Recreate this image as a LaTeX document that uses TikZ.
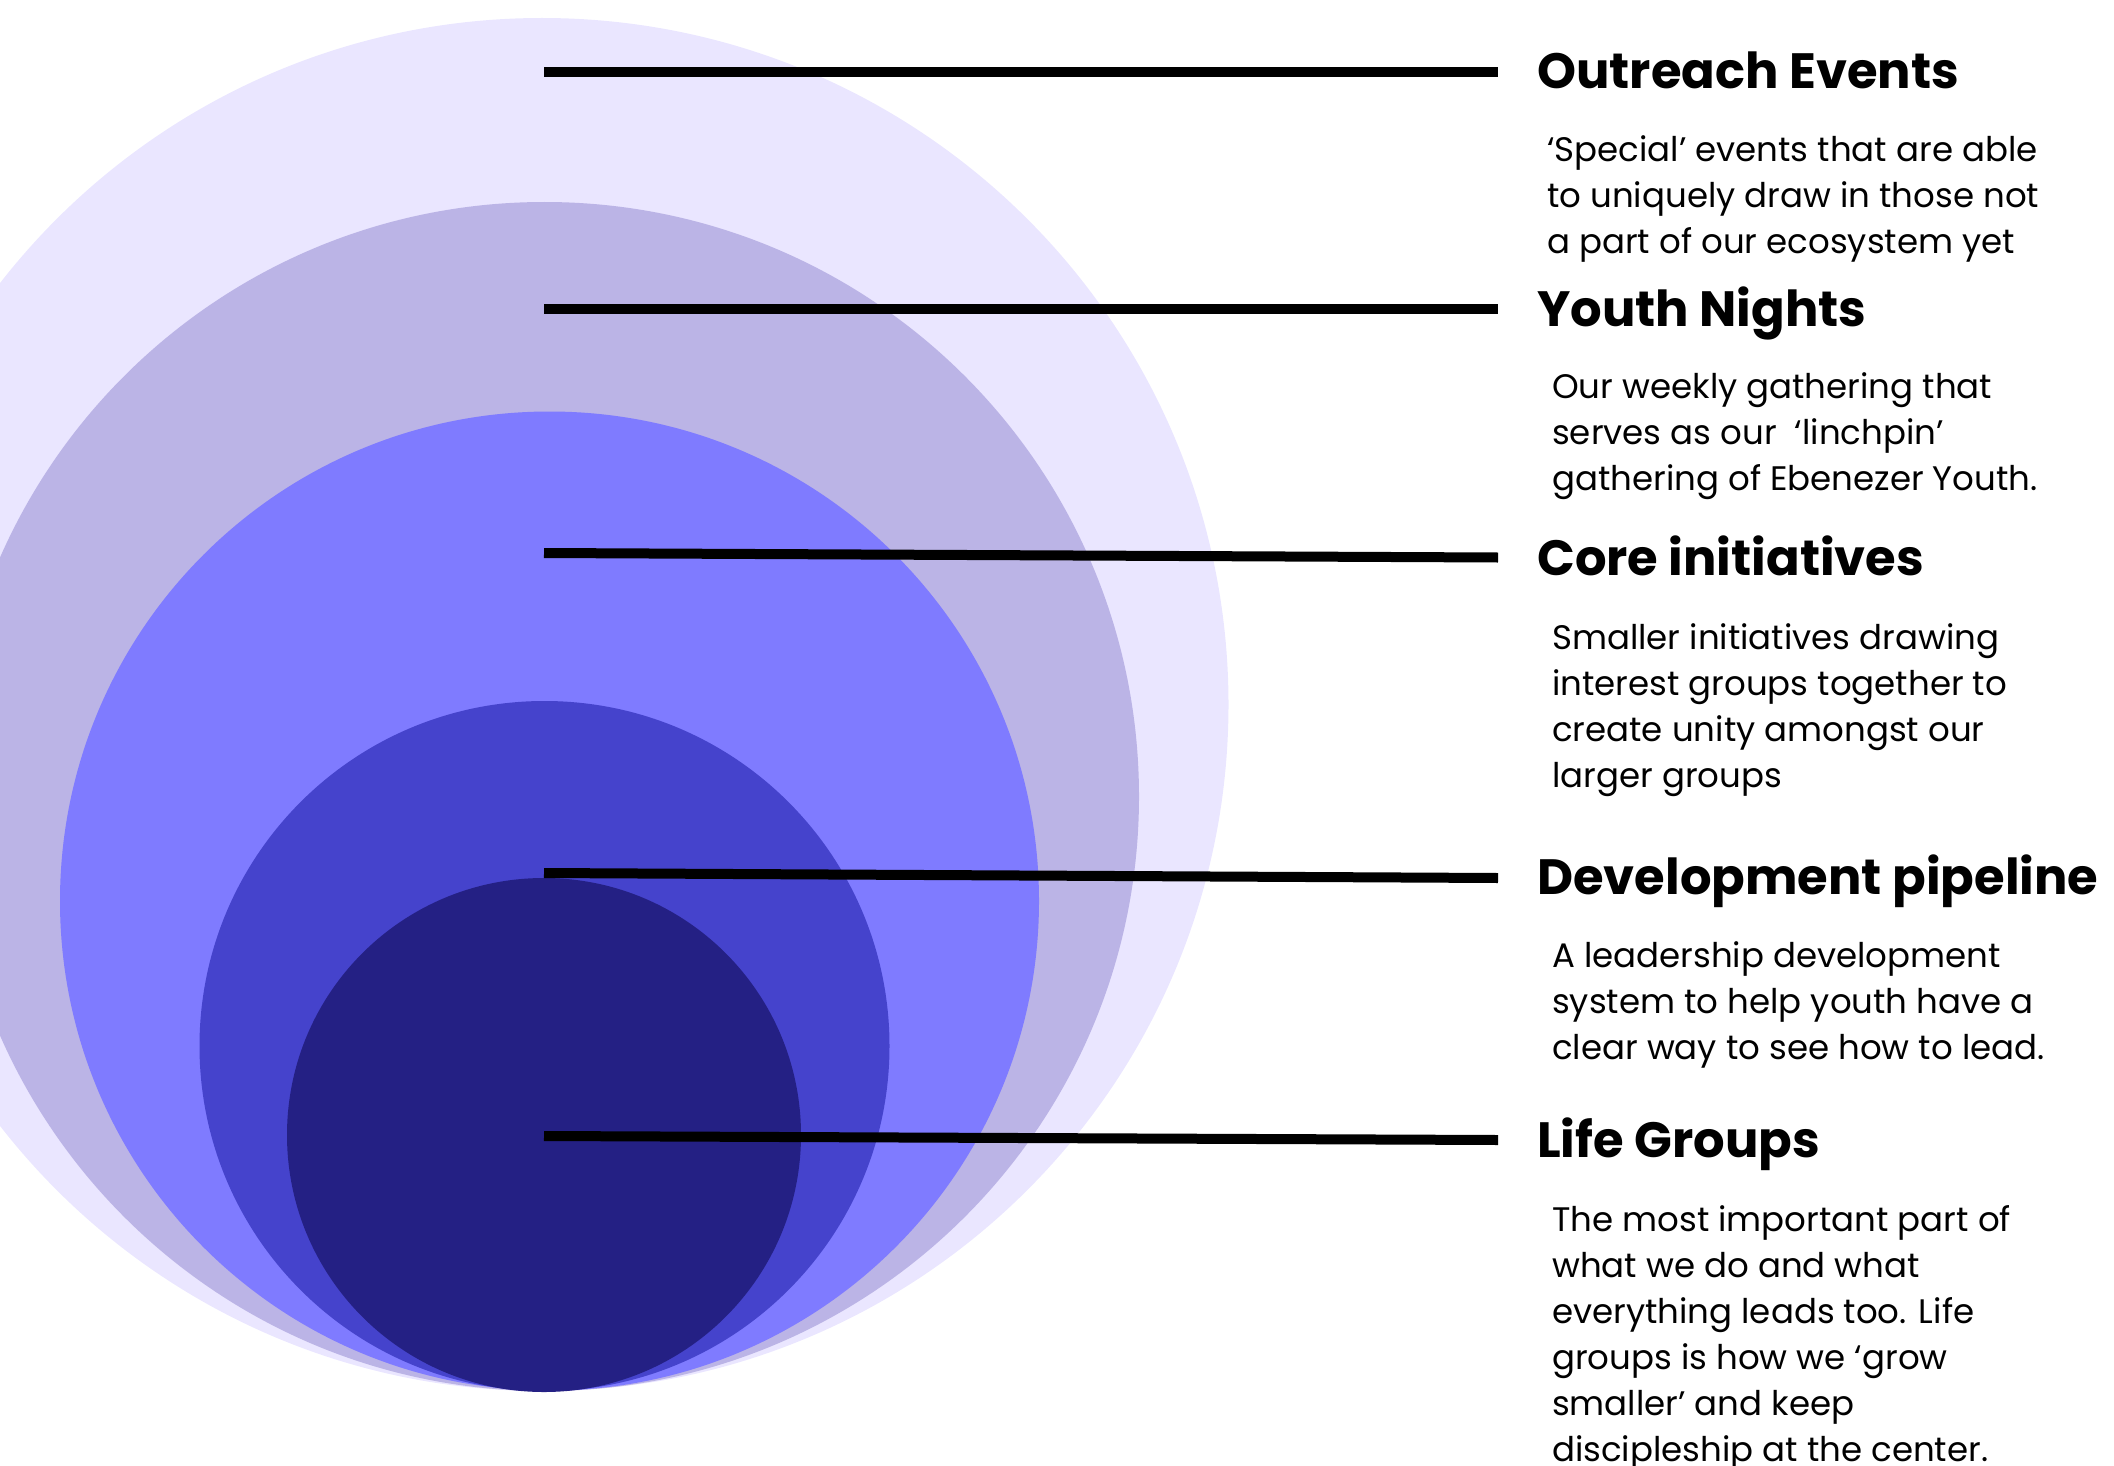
\documentclass[tikz,border=0pt]{standalone}
\usepackage{fontspec}
\setmainfont{Poppins}
\definecolor{ringA}{HTML}{EAE6FF}
\definecolor{ringB}{HTML}{BBB4E6}
\definecolor{ringC}{HTML}{7F7BFF}
\definecolor{ringD}{HTML}{4543CC}
\definecolor{ringE}{HTML}{242084}
\tikzset{
  ttl/.style={anchor=base west, inner sep=0pt, font=\fontsize{49.6}{52}\selectfont\bfseries},
  desc/.style={anchor=base west, inner sep=0pt, align=left, font=\fontsize{34}{46}\selectfont},
  leader/.style={line width=10pt, black}
}
\begin{document}
\begin{tikzpicture}[x=1pt,y=-1pt]
\useasboundingbox (0,0) rectangle (2114,1466);
\clip (0,0) rectangle (2114,1466);
\fill[ringA] (542,704.5) circle[radius=686.5];
\fill[ringB] (544.5,796.5) circle[radius=594.5];
\fill[ringC] (549.5,901) circle[radius=489.5];
\fill[ringD] (544.5,1046) circle[radius=345];
\fill[ringE] (544,1135) circle[radius=257];

\node[ttl] (t1) at (1537,88.3) {Outreach Events};
\node[ttl] (t2) at (1537,326.7) {Youth Nights};
\node[ttl] (t3) at (1537,575) {Core initiatives};
\node[ttl] (t4) at (1537,894.5) {Development pipeline};
\node[ttl] (t5) at (1537,1157.3) {Life Groups};

% base anchor = baseline of the last line
\node[desc] (d1) at (1547,253.5) {‘Special’ events that are able\\to uniquely draw in those not\\a part of our ecosystem yet};
\node[desc] (d2) at (1552,490) {Our weekly gathering that\\serves as our \ ‘linchpin’\\gathering of Ebenezer Youth.};
\node[desc] (d3) at (1552,787) {Smaller initiatives drawing\\interest groups together to\\create unity amongst our\\larger groups};
\node[desc] (d4) at (1552,1059) {A leadership development\\system to help youth have a\\clear way to see how to lead.};
\node[desc] (d5) at (1552,1461) {The most important part of\\what we do and what\\everything leads too. Life\\groups is how we ‘grow\\smaller’ and keep\\discipleship at the center.};

\coordinate (s1) at (544,72);    \coordinate (e1) at (1498,72);
\coordinate (s2) at (544,309);   \coordinate (e2) at (1498,309);
\coordinate (s3) at (544,553);   \coordinate (e3) at (1498,557.5);
\coordinate (s4) at (544,873);   \coordinate (e4) at (1498,878);
\coordinate (s5) at (544,1136);  \coordinate (e5) at (1498,1140);
\foreach \i in {1,...,5}{\draw[leader] (s\i) -- (e\i);}
\end{tikzpicture}
\end{document}
